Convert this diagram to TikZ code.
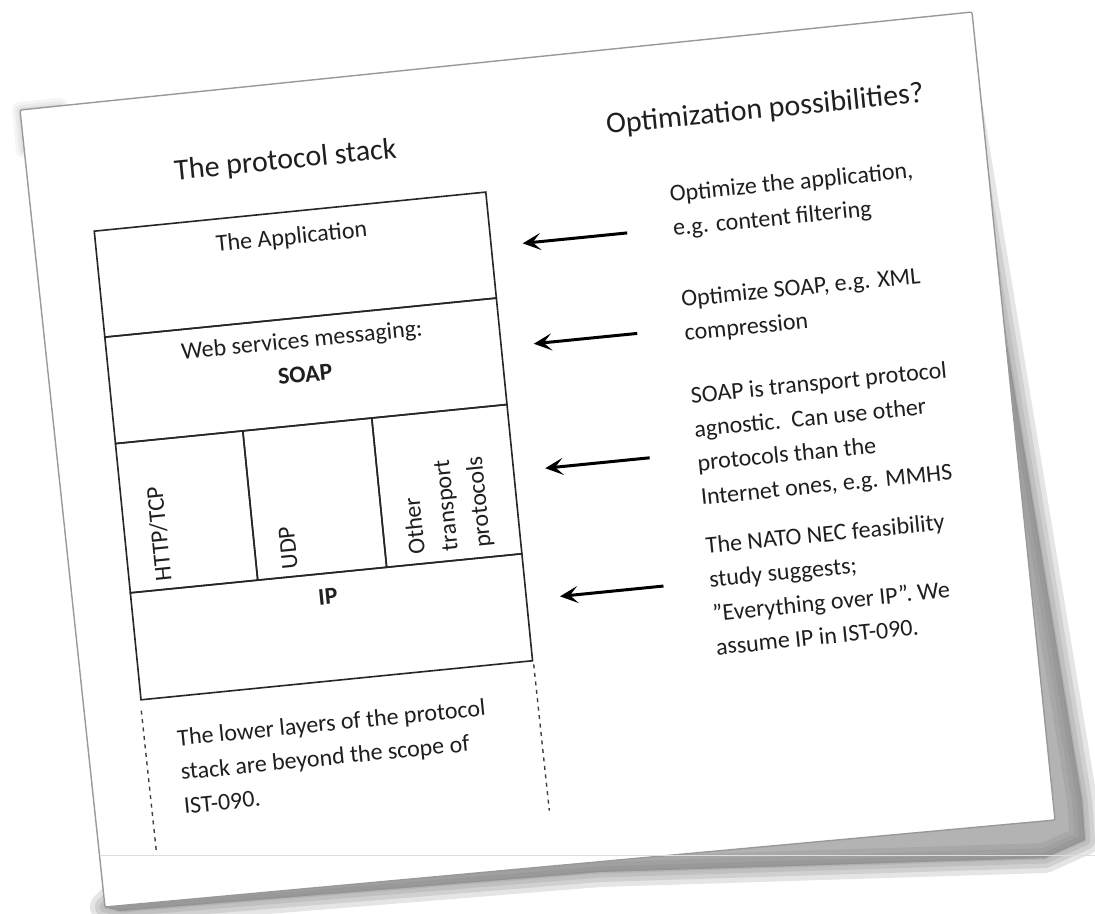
\documentclass[tikz,border=0pt]{standalone}
\usepackage{fontspec}
\setmainfont{Carlito}
\usetikzlibrary{arrows.meta}
\newcommand\mytextlines[1]{\begin{tabular}[t]{@{}l@{}}#1\end{tabular}}
\begin{document}
\begin{tikzpicture}[x=1pt,y=-1pt,
  body/.style={font=\fontsize{24}{34}\selectfont, inner sep=0pt, text=black!88},
  ttl/.style={font=\fontsize{30}{36}\selectfont, inner sep=0pt, text=black!88},
  layerbox/.style={draw=black!85, line width=1.6pt, inner sep=0pt, anchor=north west},
  optarrow/.style={draw=black, line width=3pt, -{Stealth[length=18pt,width=17pt,inset=8pt]}},
  lowdash/.style={draw=black!75, line width=1.4pt, dash pattern=on 4pt off 4.5pt},
  shadowlayer/.style={fill=black!50, draw=black!50, opacity=0.2, line join=round},
]
\useasboundingbox (0,0) rectangle (1095,913);
\fill[white] (0,0) rectangle (1095,913);
% drop shadow of the sheet
\foreach \w in {30,20,11,3}{
  \filldraw[shadowlayer, line width=\w pt] (960,60) -- (1082,800) -- (1085,840) -- (1045,858) -- (600,872) -- (120,911) -- (105,907) -- cycle;
}
\foreach \w in {16,10,5}{
  \draw[black!50, opacity=0.08, line width=\w pt, line cap=round, line join=round] (24,150) -- (20,110) -- (60,106);
}
% the sheet
\filldraw[fill=white, draw=black!40, line width=1.4pt, rounded corners=2pt] (20,110) -- (972,12) -- (1055,820) -- (105,907) -- cycle;
\draw[black!13, line width=0.8pt] (100,855) -- (1095,855);

\begin{scope}[rotate around={5.7:(547,456)}, transform shape]
  % titles
  \node[ttl, anchor=base] (tStack) at (316,144.5) {The protocol stack};
  \node[ttl, anchor=base west] (tOpt) at (638.5,141.5) {Optimization possibilities?};
  % protocol stack layers
  \node[layerbox, minimum width=393.5pt, minimum height=106.5pt] (app) at (118,186.5) {};
  \node[layerbox, minimum width=393.5pt, minimum height=107pt] (soap) at (118,293) {};
  \node[layerbox, minimum width=128pt, minimum height=150pt] (http) at (118,400) {};
  \node[layerbox, minimum width=129.6pt, minimum height=150pt] (udp) at (246,400) {};
  \node[layerbox, minimum width=135.9pt, minimum height=150pt] (other) at (375.6,400) {};
  \node[layerbox, minimum width=393.5pt, minimum height=107.5pt] (ip) at (118,550) {};
  % layer labels
  \node[body, anchor=base] (tApp) at (314.5,220) {The Application};
  \node[body, anchor=base] (tWeb) at (314.5,324) {Web services messaging:};
  \node[body, anchor=base] (tSoap) at (314.5,358.5) {\textbf{SOAP}};
  \node[body, anchor=base] (tIp) at (315,582) {\textbf{IP}};
  \node[body, rotate=90, anchor=base west] (tHttp) at (161,543) {HTTP/TCP};
  \node[body, rotate=90, anchor=base west] (tUdp) at (288,543) {UDP};
  \node[body, rotate=90, anchor=base west] (tOthA) at (416,541) {Other};
  \node[body, rotate=90, anchor=base west] (tOthB) at (449,541) {transport};
  \node[body, rotate=90, anchor=base west] (tOthC) at (482,541) {protocols};
  % lower layers
  \draw[lowdash] ([yshift=-10pt]ip.south west) -- ++(1,142);
  \draw[lowdash] ([yshift=-3pt]ip.south east) -- ++(1,147);
  \node[body, anchor=base west] (low) at (151,708) {\mytextlines{The lower layers of the protocol\\ stack are beyond the scope of\\ IST-090.}};
  % optimization possibilities
  \node[body, anchor=base west] (o1) at (695,215.5) {\mytextlines{Optimize the application,\\ e.g. content filtering}};
  \node[body, anchor=base west] (o2) at (696,321) {\mytextlines{Optimize SOAP, e.g. XML\\ compression}};
  \node[body, anchor=base west] (o3) at (696,418) {\mytextlines{SOAP is transport protocol\\ agnostic.\ \ Can use other\\ protocols than the\\ Internet ones, e.g. MMHS}};
  \node[body, anchor=base west] (o4) at (696,569) {\mytextlines{The NATO NEC feasibility\\ study suggests;\\ ”Everything over IP”. We\\ assume IP in IST-090.}};
  % arrows
  \coordinate (a1s) at (649,242); \coordinate (a1e) at (544,242);
  \coordinate (a2s) at (649,343); \coordinate (a2e) at (545,343);
  \coordinate (a3s) at (649,468); \coordinate (a3e) at (544,468);
  \coordinate (a4s) at (650,597); \coordinate (a4e) at (546,597);
  \draw[optarrow] (a1s) -- (a1e);
  \draw[optarrow] (a2s) -- (a2e);
  \draw[optarrow] (a3s) -- (a3e);
  \draw[optarrow] (a4s) -- (a4e);
\end{scope}
\end{tikzpicture}
\end{document}
